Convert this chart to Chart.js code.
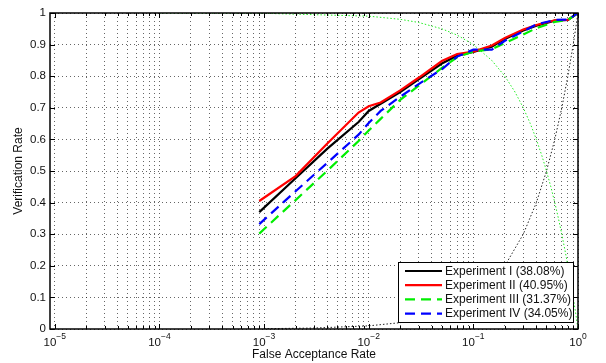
<!DOCTYPE html>
<html>
<head>
<meta charset="utf-8">
<script src="https://cdn.jsdelivr.net/npm/chart.js@4.4.1/dist/chart.umd.min.js"></script>
<style>
  html, body { margin: 0; padding: 0; background: #fff; }
  #wrap { width: 606px; height: 363px; }
</style>
</head>
<body>
<div id="wrap"><canvas id="roc" width="606" height="363"></canvas></div>
<script>
// False acceptance rates at which the verification rates were sampled
const FAR = [0.0009, 0.002, 0.004, 0.008, 0.01, 0.013, 0.02, 0.03, 0.05, 0.07, 0.1, 0.15, 0.2, 0.3, 0.4, 0.6, 0.8, 1.0];

// Verification rate per experiment
const EXP_I   = [0.370, 0.477, 0.570, 0.655, 0.690, 0.713, 0.750, 0.790, 0.840, 0.865, 0.877, 0.893, 0.918, 0.945, 0.960, 0.976, 0.978, 1.0];
const EXP_II  = [0.405, 0.484, 0.586, 0.685, 0.705, 0.717, 0.755, 0.795, 0.848, 0.870, 0.878, 0.897, 0.921, 0.948, 0.962, 0.977, 0.978, 1.0];
const EXP_III = [0.302, 0.408, 0.500, 0.595, 0.628, 0.665, 0.725, 0.770, 0.826, 0.860, 0.878, 0.885, 0.905, 0.932, 0.952, 0.972, 0.978, 1.0];
const EXP_IV  = [0.332, 0.436, 0.525, 0.615, 0.652, 0.690, 0.735, 0.775, 0.822, 0.862, 0.884, 0.884, 0.912, 0.942, 0.964, 0.978, 0.979, 1.0];

const SERIES_LABELS = ['Experiment I (38.08%)', 'Experiment II (40.95%)', 'Experiment III (31.37%)', 'Experiment IV (34.05%)'];

// Equal-error reference line (green dotted)
const EER_FAR  = [0.0001, 0.001, 0.01, 0.02, 0.03, 0.05, 0.07, 0.1, 0.15, 0.2, 0.25, 0.3, 0.35, 0.4, 0.45, 0.5, 0.55, 0.6, 0.65, 0.7, 0.75, 0.8, 0.85, 0.9, 0.95, 0.98, 1.0];
const EER_RATE = [1.0, 0.999, 0.99, 0.98, 0.97, 0.95, 0.93, 0.9, 0.85, 0.8, 0.75, 0.7, 0.65, 0.6, 0.55, 0.5, 0.45, 0.4, 0.35, 0.3, 0.25, 0.2, 0.15, 0.1, 0.05, 0.02, 0.0];

// Diagonal reference line (black dotted)
const DIAG_FAR  = [0.001, 0.003, 0.01, 0.02, 0.03, 0.05, 0.07, 0.1, 0.15, 0.2, 0.3, 0.4, 0.5, 0.6, 0.7, 0.8, 0.9, 1.0];
const DIAG_RATE = [0.001, 0.003, 0.01, 0.02, 0.03, 0.05, 0.07, 0.1, 0.15, 0.2, 0.3, 0.4, 0.5, 0.6, 0.7, 0.8, 0.9, 1.0];

// Axis ticks
const X_DECADES = [-5, -4, -3, -2, -1, 0];
const Y_TICKS = [0, 0.1, 0.2, 0.3, 0.4, 0.5, 0.6, 0.7, 0.8, 0.9, 1];

const FONT = '"Liberation Sans", Arial, Helvetica, sans-serif';

const pts = (xs, ys) => xs.map((v, i) => ({ x: v, y: ys[i] }));

// every 1..9 x 10^k position for the log grid
const xTickValues = [];
X_DECADES.forEach(e => {
  for (let m = 1; m <= 9; m++) {
    if (e === 0 && m > 1) break;
    xTickValues.push({ value: m * Math.pow(10, e), major: m === 1 });
  }
});

const roc = (label, ys, color, dash, order) => ({
  label, data: pts(FAR, ys), borderColor: color, backgroundColor: color,
  borderWidth: 2.2, borderDash: dash, pointRadius: 0, tension: 0, order
});

const datasets = [
  roc(SERIES_LABELS[0], EXP_I, '#000000', [], 4),
  roc(SERIES_LABELS[1], EXP_II, '#ff0000', [], 3),
  roc(SERIES_LABELS[2], EXP_III, '#00ee00', [10, 6], 2),
  roc(SERIES_LABELS[3], EXP_IV, '#0000ff', [10, 6], 1),
  { data: pts(EER_FAR, EER_RATE), borderColor: '#22ee22', borderWidth: 1, borderDash: [1.5, 2],
    pointRadius: 0, tension: 0, order: 5 },
  { data: pts(DIAG_FAR, DIAG_RATE), borderColor: '#222222', borderWidth: 1, borderDash: [1.5, 2],
    pointRadius: 0, tension: 0, order: 6 }
];

// Box, inner tick marks, superscript decade labels, axis titles and the legend
const framePlugin = {
  id: 'frame',
  afterDraw(chart) {
    const { ctx, chartArea: a, scales: { x, y } } = chart;
    ctx.save();

    ctx.strokeStyle = '#000';
    ctx.lineWidth = 1;
    ctx.beginPath();
    x.ticks.forEach(t => {
      const px = Math.round(x.getPixelForValue(t.value)) + 0.5;
      const len = t.major ? 5 : 3;
      ctx.moveTo(px, a.bottom); ctx.lineTo(px, a.bottom - len);
      ctx.moveTo(px, a.top); ctx.lineTo(px, a.top + len);
    });
    y.ticks.forEach(t => {
      const py = Math.round(y.getPixelForValue(t.value)) + 0.5;
      ctx.moveTo(a.left, py); ctx.lineTo(a.left + 5, py);
      ctx.moveTo(a.right, py); ctx.lineTo(a.right - 5, py);
    });
    ctx.stroke();

    ctx.lineWidth = 1.5;
    ctx.strokeRect(a.left, a.top, a.right - a.left, a.bottom - a.top);

    // decade labels 10^e
    ctx.fillStyle = '#111';
    ctx.textBaseline = 'alphabetic';
    ctx.textAlign = 'left';
    X_DECADES.forEach(e => {
      const px = x.getPixelForValue(Math.pow(10, e));
      const base = '10', sup = e < 0 ? '\u2212' + Math.abs(e) : String(e);
      ctx.font = '11.5px ' + FONT;
      const wb = ctx.measureText(base).width;
      ctx.font = '8.5px ' + FONT;
      const ws = ctx.measureText(sup).width;
      const x0 = px - (wb + ws) / 2;
      ctx.font = '11.5px ' + FONT;
      ctx.fillText(base, x0, a.bottom + 17);
      ctx.font = '8.5px ' + FONT;
      ctx.fillText(sup, x0 + wb, a.bottom + 9.5);
    });

    // axis titles
    ctx.font = '12px ' + FONT;
    ctx.textAlign = 'center';
    ctx.textBaseline = 'middle';
    ctx.fillText('False Acceptance Rate', (a.left + a.right) / 2, 355);
    ctx.save();
    ctx.translate(19, (a.top + a.bottom) / 2);
    ctx.rotate(-Math.PI / 2);
    ctx.fillText('Verification Rate', 0, 0);
    ctx.restore();

    // legend
    const lx = 398, ly = 262, lw = 175, lh = 60;
    ctx.fillStyle = '#fff';
    ctx.fillRect(lx, ly, lw, lh);
    ctx.lineWidth = 1;
    ctx.strokeStyle = '#000';
    ctx.strokeRect(lx + 0.5, ly + 0.5, lw, lh);
    ctx.textAlign = 'left';
    ctx.font = '12px ' + FONT;
    chart.data.datasets.filter(d => d.label).forEach((d, i) => {
      const ry = ly + 9 + i * 14.2;
      ctx.strokeStyle = d.borderColor;
      ctx.lineWidth = 2.2;
      ctx.setLineDash(d.borderDash || []);
      ctx.beginPath();
      ctx.moveTo(405, ry); ctx.lineTo(442, ry);
      ctx.stroke();
      ctx.setLineDash([]);
      ctx.fillStyle = '#111';
      ctx.fillText(d.label, 445, ry + 0.5);
    });

    ctx.restore();
  }
};

new Chart(document.getElementById('roc'), {
  type: 'line',
  data: { datasets },
  options: {
    responsive: false,
    animation: false,
    layout: { padding: { top: 13, right: 28, left: 0, bottom: 0 } },
    plugins: { legend: { display: false }, tooltip: { enabled: false } },
    scales: {
      x: {
        type: 'logarithmic',
        min: 9e-6,
        max: 1,
        afterBuildTicks: s => { s.ticks = xTickValues.map(t => ({ ...t })); },
        afterFit: s => { s.height = 34; },
        ticks: { display: false },
        grid: { color: 'rgba(0,0,0,0.6)', lineWidth: 1, drawTicks: false, tickLength: 0 },
        border: { display: false, dash: [1, 3] }
      },
      y: {
        type: 'linear',
        min: 0,
        max: 1,
        afterBuildTicks: s => { s.ticks = Y_TICKS.map(v => ({ value: v })); },
        afterFit: s => { s.width = 50; },
        ticks: {
          padding: 4,
          color: '#111',
          font: { family: FONT, size: 11.5 },
          callback: v => String(Math.round(v * 10) / 10)
        },
        grid: { color: 'rgba(0,0,0,0.6)', lineWidth: 1, drawTicks: false, tickLength: 0 },
        border: { display: false, dash: [1, 3] }
      }
    }
  },
  plugins: [framePlugin]
});
</script>
</body>
</html>
